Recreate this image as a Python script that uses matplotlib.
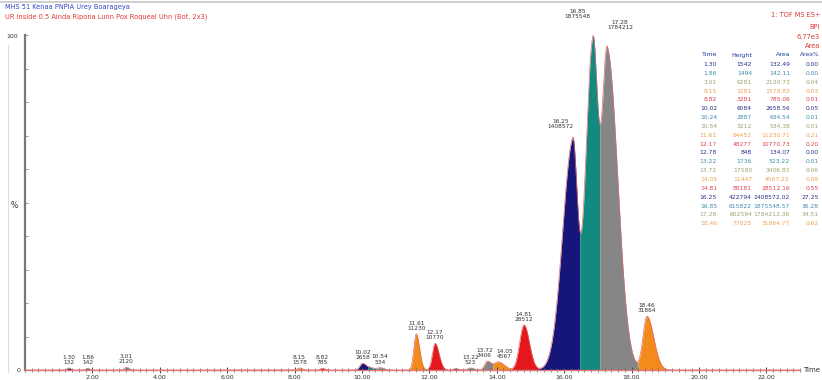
import numpy as np
import matplotlib
matplotlib.use("Agg")
import matplotlib.pyplot as plt

# ---------------- data ----------------
peak_times = [1.30, 1.86, 3.01, 8.15, 8.82, 10.02, 10.24, 10.54, 11.61, 12.17,
              12.78, 13.22, 13.72, 14.05, 14.81, 16.25, 16.85, 17.28, 18.46]
peak_heights_pct = [0.6, 0.5, 0.8, 0.6, 0.5, 2.0, 0.7, 0.7, 10.8, 8.0,
                    0.4, 0.6, 2.6, 2.4, 13.5, 67.0, 97.0, 95.0, 16.0]
peak_sigma_left = [0.05, 0.05, 0.06, 0.06, 0.06, 0.08, 0.08, 0.08, 0.07, 0.08,
                   0.08, 0.08, 0.08, 0.12, 0.13, 0.30, 0.22, 0.16, 0.12]
peak_sigma_right = [0.06, 0.06, 0.08, 0.08, 0.08, 0.10, 0.12, 0.12, 0.10, 0.12,
                    0.10, 0.10, 0.12, 0.18, 0.16, 0.14, 0.15, 0.31, 0.20]
table_height = ["1542", "1494", "6281", "3281", "3281", "6084", "2887", "3212", "64452", "48277",
                "848", "1736", "17580", "11447", "88181", "422794", "615822", "602594", "77825"]
table_area = [132.49, 142.11, 2120.73, 1578.83, 785.06, 2658.56, 634.54, 534.38, 11230.71, 10770.73,
              134.07, 523.22, 3406.83, 4567.22, 28512.16, 1408572.02, 1875548.57, 1784212.36, 31864.77]
table_area_pct = ["0.00", "0.00", "0.04", "0.03", "0.01", "0.05", "0.01", "0.01", "0.21", "0.20",
                  "0.00", "0.01", "0.06", "0.09", "0.55", "27.25", "36.28", "34.51", "0.62"]
labelled = [True, True, True, True, True, True, False, True, True, True,
            False, True, True, True, True, True, True, True, True]
x_tick_labels = ["2.00", "4.00", "6.00", "8.00", "10.00", "12.00", "14.00",
                 "16.00", "18.00", "20.00", "22.00"]

title_line1 = "MHS 51 Kenaa PNPIA Urey Boarageya"
title_line2 = "UR Inside 0.5 Ainda Ripona Lunn Pox Roqueal Uhn (Bot. 2x3)"
info_lines = ["1: TOF MS ES+", "BPI", "6.77e3", "Area"]

# ---------------- style ----------------
cycle = ["#15157A", "#138A80", "#868686", "#F28A1C", "#E3171C"]
text_cycle = ["#2A2F8C", "#3C8DB0", "#A0A070", "#F0A050", "#E04050"]

W, H = 822, 380
fig = plt.figure(figsize=(W / 100, H / 100), dpi=100)
fig.patch.set_facecolor("white")

def fx(px):
    return px / W

def fy(py):
    return 1 - py / H

ax = fig.add_axes([fx(25), fy(370), fx(800) - fx(25), fy(35) - fy(370)])
ax.set_xlim(0, 23.0)
ax.set_ylim(0, 100)
ax.set_facecolor("none")

# ---------------- trace ----------------
t = np.linspace(0, 23.0, 6000)
comps = []
for tm, h, sl, sr in zip(peak_times, peak_heights_pct, peak_sigma_left, peak_sigma_right):
    s = np.where(t < tm, sl, sr)
    comps.append(h * np.exp(-0.5 * ((t - tm) / s) ** 2))
comps = np.array(comps)
total = comps.sum(axis=0)
owner = comps.argmax(axis=0)

# fill contiguous segments by owning peak
start = 0
for i in range(1, len(t) + 1):
    if i == len(t) or owner[i] != owner[start]:
        k = owner[start]
        seg = slice(start, min(i + 1, len(t)))
        ax.fill_between(t[seg], 0, total[seg], color=cycle[k % 5], linewidth=0)
        start = i
ax.plot(t, total, color="#E06A6A", lw=0.5, zorder=3)

# peak labels
dx_px = {15: -12, 16: -15, 17: 13, 13: 6, 12: -3}
dy_px = {15: 6, 16: 14, 17: 13}
for i, (tm, on) in enumerate(zip(peak_times, labelled)):
    if not on:
        continue
    j = np.argmin(np.abs(t - tm))
    ytop = total[j]
    ax.annotate(f"{tm:.2f}\n{int(table_area[i])}",
                xy=(tm, ytop), xycoords="data",
                xytext=(dx_px.get(i, 0) * 0.72, (3 + dy_px.get(i, 0)) * 0.72),
                textcoords="offset points", ha="center", va="bottom",
                fontsize=4.2, color="#333333", linespacing=1.05,
                annotation_clip=False, zorder=5)

# ---------------- axes ----------------
for s in ["top", "right"]:
    ax.spines[s].set_visible(False)
ax.spines["left"].set_color("#7A7A7A")
ax.spines["left"].set_linewidth(1.6)
ax.spines["bottom"].set_color("#E07A7A")
ax.spines["bottom"].set_linewidth(1.0)

ax.set_yticks(np.arange(0, 101, 10))
ax.set_yticklabels([])
ax.tick_params(axis="y", direction="in", length=2, color="#888888", width=0.6)
ax.set_xticks(np.arange(2, 23, 2))
ax.set_xticklabels(x_tick_labels)
ax.set_xticks(np.arange(0, 23.01, 0.2), minor=True)
ax.tick_params(axis="x", which="major", direction="inout", length=4, width=0.7,
               color="#444444", labelsize=4.5, pad=1.5, labelcolor="#333333")
ax.tick_params(axis="x", which="minor", direction="inout", length=2.5, width=0.5,
               color="#555555")

fig.text(fx(12), fy(36), "100", fontsize=4.5, color="#333333", ha="center", va="center")
fig.text(fx(14), fy(205), "%", fontsize=5.5, color="#333333", ha="center", va="center")
fig.text(fx(19), fy(370), "0", fontsize=4.5, color="#333333", ha="center", va="center")
fig.text(fx(803), fy(370), "Time", fontsize=5, color="#333333", ha="left", va="center")

# frame lines of screenshot
fig.add_artist(plt.Line2D([0, 1], [fy(2), fy(2)], transform=fig.transFigure,
                          color="#C8C8C8", lw=1.2))
fig.add_artist(plt.Line2D([fx(8), fx(8)], [fy(45), fy(372)], transform=fig.transFigure,
                          color="#DDDDDD", lw=0.8))

# header texts
fig.text(fx(5), fy(7), title_line1, fontsize=4.8, color="#3048C8", ha="left", va="center")
fig.text(fx(5), fy(17), title_line2, fontsize=4.8, color="#E03838", ha="left", va="center")
info_y = [15, 27, 37, 46]
for txt, yy in zip(info_lines, info_y):
    fig.text(fx(820), fy(yy), txt, fontsize=4.8, color="#E03838", ha="right", va="center")

# peak table
hdr_y = 55
fig.text(fx(717), fy(hdr_y), "Time", fontsize=4.5, color="#1F3FA0", ha="right", va="center")
fig.text(fx(752), fy(hdr_y), "Height", fontsize=4.5, color="#1F3FA0", ha="right", va="center")
fig.text(fx(790), fy(hdr_y), "Area", fontsize=4.5, color="#1F3FA0", ha="right", va="center")
fig.text(fx(820), fy(hdr_y), "Area%", fontsize=4.3, color="#1F3FA0", ha="right", va="center")
for i, tm in enumerate(peak_times):
    yy = 64.5 + i * 8.85
    c = text_cycle[i % 5]
    fig.text(fx(717), fy(yy), f"{tm:.2f}", fontsize=4.3, color=c, ha="right", va="center")
    fig.text(fx(752), fy(yy), table_height[i], fontsize=4.3, color=c, ha="right", va="center")
    fig.text(fx(790), fy(yy), f"{table_area[i]:.2f}", fontsize=4.3, color=c, ha="right", va="center")
    fig.text(fx(819), fy(yy), table_area_pct[i], fontsize=4.3, color=c, ha="right", va="center")

fig.savefig("out.png", dpi=100, facecolor="white")
